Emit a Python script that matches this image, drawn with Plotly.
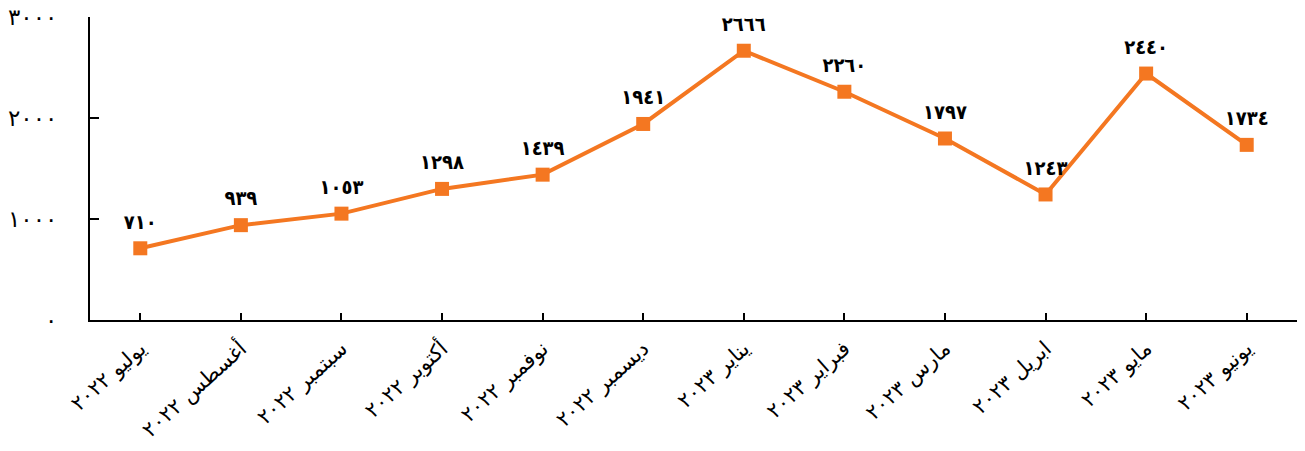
import plotly.graph_objects as go

months = ["يوليو ٢٠٢٢", "أغسطس ٢٠٢٢", "سبتمبر ٢٠٢٢", "أكتوبر ٢٠٢٢", "نوفمبر ٢٠٢٢",
          "ديسمبر ٢٠٢٢", "يناير ٢٠٢٣", "فبراير ٢٠٢٣", "مارس ٢٠٢٣", "ابريل ٢٠٢٣",
          "مايو ٢٠٢٣", "يونيو ٢٠٢٣"]
values = [710, 939, 1053, 1298, 1439, 1941, 2666, 2260, 1797, 1243, 2440, 1734]
y_tick_vals = [0, 1000, 2000, 3000]
y_tick_text = ["٠", "١٠٠٠", "٢٠٠٠", "٣٠٠٠"]

AR = str.maketrans("0123456789", "٠١٢٣٤٥٦٧٨٩")
labels = [str(v).translate(AR) for v in values]

ORANGE = "#F47721"
FONT = "DejaVu Sans"

fig = go.Figure()
fig.add_trace(go.Scatter(
    x=list(range(len(months))), y=values,
    mode="lines+markers",
    line=dict(color=ORANGE, width=4),
    marker=dict(symbol="square", size=14, color=ORANGE),
    hoverinfo="skip",
))
fig.add_trace(go.Scatter(
    x=list(range(len(months))), y=values,
    mode="markers+text",
    marker=dict(symbol="square", size=22, color="rgba(0,0,0,0)"),
    text=labels, textposition="top center",
    textfont=dict(family="DejaVu Sans Condensed", size=20, color="#000000", weight="bold"),
    cliponaxis=False,
    hoverinfo="skip",
))

fig.update_layout(
    width=1305, height=451,
    margin=dict(l=90, r=8, t=17, b=131),
    paper_bgcolor="#ffffff", plot_bgcolor="#ffffff",
    showlegend=False,
    font=dict(family=FONT, color="#000000"),
)
fig.update_xaxes(
    range=[-0.5, 11.5],
    tickvals=list(range(len(months))), ticktext=months,
    tickangle=-42,
    tickfont=dict(family=FONT, size=21, color="#000000"),
    showline=True, linecolor="#000000", linewidth=2,
    ticks="inside", ticklen=7, tickwidth=2, tickcolor="#000000",
    ticklabelstandoff=6,
    showgrid=False, zeroline=False, automargin=False,
)
fig.update_yaxes(
    range=[0, 3000],
    tickvals=y_tick_vals, ticktext=y_tick_text,
    tickfont=dict(family=FONT, size=23, color="#000000"),
    showline=True, linecolor="#000000", linewidth=2,
    ticks="inside", ticklen=9, tickwidth=2, tickcolor="#000000",
    ticklabelstandoff=26,
    showgrid=False, zeroline=False, automargin=False,
)

fig.write_html(
    "out.html",
    config={"displayModeBar": False},
    post_script="document.body.style.margin='0';document.body.style.padding='0';",
)
